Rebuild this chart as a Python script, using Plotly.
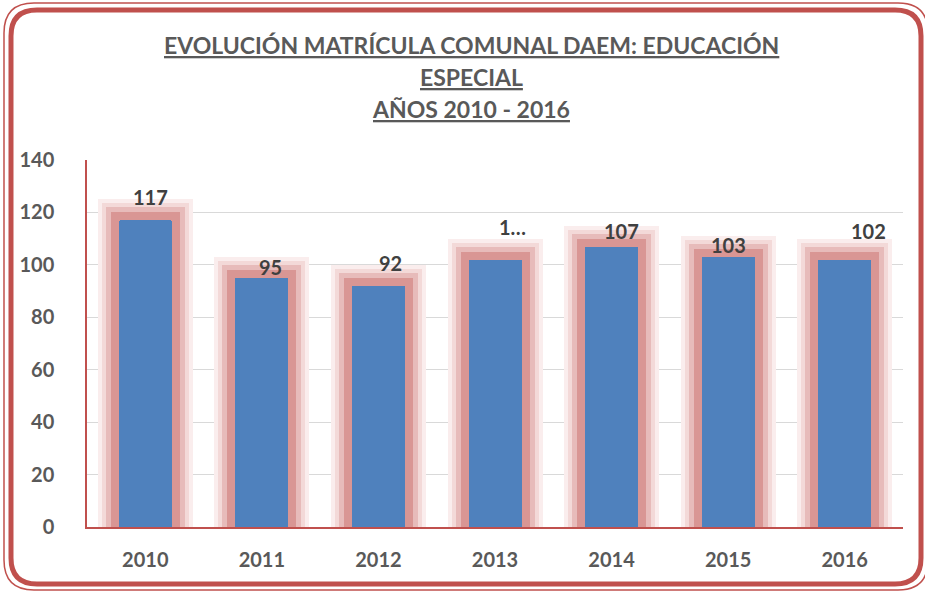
import plotly.graph_objects as go

years = ["2010", "2011", "2012", "2013", "2014", "2015", "2016"]
values = [117, 95, 92, 102, 107, 103, 102]
labels = ["117", "95", "92", "1…", "107", "103", "102"]
y_ticks = [0, 20, 40, 60, 80, 100, 120, 140]
title_lines = ["EVOLUCIÓN MATRÍCULA COMUNAL DAEM: EDUCACIÓN", "ESPECIAL", "AÑOS 2010 - 2016"]

# label offsets in px (Excel-like placement)
label_dx = [5, 9, 12, 17, 10, 0, 24]
label_dy = [23, 11, 23, 33, 16, 12, 29]

W, H = 925, 593
L, R, T, B = 87, 22, 160, 66
pw, ph = W - L - R, H - T - B
px_per_unit = ph / 140
cat_px = pw / len(years)

RED = "#C0504D"
BLUE = "#4F81BD"
GRAY = "#595959"
FONT = "Lato"

bar_w = 53 / cat_px
fig = go.Figure()

glow = [(21, "rgb(250,237,237)"), (17, "rgb(243,217,216)"), (13, "rgb(231,187,186)"), (8, "rgb(217,150,148)")]
for pad, col in glow:
    fig.add_trace(go.Bar(
        x=years, y=[v + pad / px_per_unit for v in values],
        width=bar_w + 2 * pad / cat_px, marker=dict(color=col, line=dict(width=0)),
        hoverinfo="skip", showlegend=False))

fig.add_trace(go.Bar(x=years, y=values, width=bar_w,
                     marker=dict(color=BLUE, line=dict(width=0), cornerradius=3), showlegend=False))

annotations = []
for i, (v, t, dx, dy) in enumerate(zip(values, labels, label_dx, label_dy)):
    annotations.append(dict(x=i, y=v, text=f"<b>{t}</b>", showarrow=False,
                            xanchor="center", yanchor="middle", xshift=dx, yshift=dy,
                            font=dict(family=FONT, size=20, color="#404040")))

title_y_px = [45, 77, 109]
for line, ypx in zip(title_lines, title_y_px):
    annotations.append(dict(xref="paper", yref="paper", x=(471 - L) / pw, y=(H - B - ypx) / ph,
                            text=f"<b><u>{line}</u></b>", showarrow=False,
                            xanchor="center", yanchor="middle",
                            font=dict(family=FONT, size=23, color=GRAY)))

def px2paper(x, y):
    return (x - L) / pw, (H - B - y) / ph

def rounded_rect(x0, y0, x1, y1, r):
    def p(x, y):
        a, b = px2paper(x, y)
        return f"{a:.5f},{b:.5f}"
    path = (f"M {p(x0 + r, y0)} L {p(x1 - r, y0)} Q {p(x1, y0)} {p(x1, y0 + r)} "
            f"L {p(x1, y1 - r)} Q {p(x1, y1)} {p(x1 - r, y1)} "
            f"L {p(x0 + r, y1)} Q {p(x0, y1)} {p(x0, y1 - r)} "
            f"L {p(x0, y0 + r)} Q {p(x0, y0)} {p(x0 + r, y0)} Z")
    return path

shapes = [
    dict(type="path", xref="paper", yref="paper", path=rounded_rect(4, 3, 928, 590, 30),
         line=dict(color=RED, width=1.5)),
    dict(type="path", xref="paper", yref="paper", path=rounded_rect(11, 10, 921, 584, 26),
         line=dict(color=RED, width=5)),
]

fig.update_layout(
    width=W, height=H,
    margin=dict(l=L, r=R, t=T, b=B),
    paper_bgcolor="white", plot_bgcolor="white",
    barmode="overlay", bargap=0,
    showlegend=False,
    annotations=annotations,
    shapes=shapes,
    xaxis=dict(type="category", range=[-0.5, len(years) - 0.5], showline=True, linecolor=RED,
               linewidth=1.5, showgrid=False, ticks="",
               tickfont=dict(family=FONT, size=20, color=GRAY, weight="bold"), ticklabelstandoff=14,
               fixedrange=True),
    yaxis=dict(range=[0, 140], tickvals=y_ticks, showline=True, linecolor=RED, linewidth=1.5,
               gridcolor="#D9D9D9", gridwidth=1, zeroline=False, ticks="",
               tickfont=dict(family=FONT, size=20, color=GRAY, weight="bold"), ticklabelstandoff=27,
               fixedrange=True),
)

fig.write_html("out.html", config={"displayModeBar": False},
               post_script="document.body.style.margin='0';")
